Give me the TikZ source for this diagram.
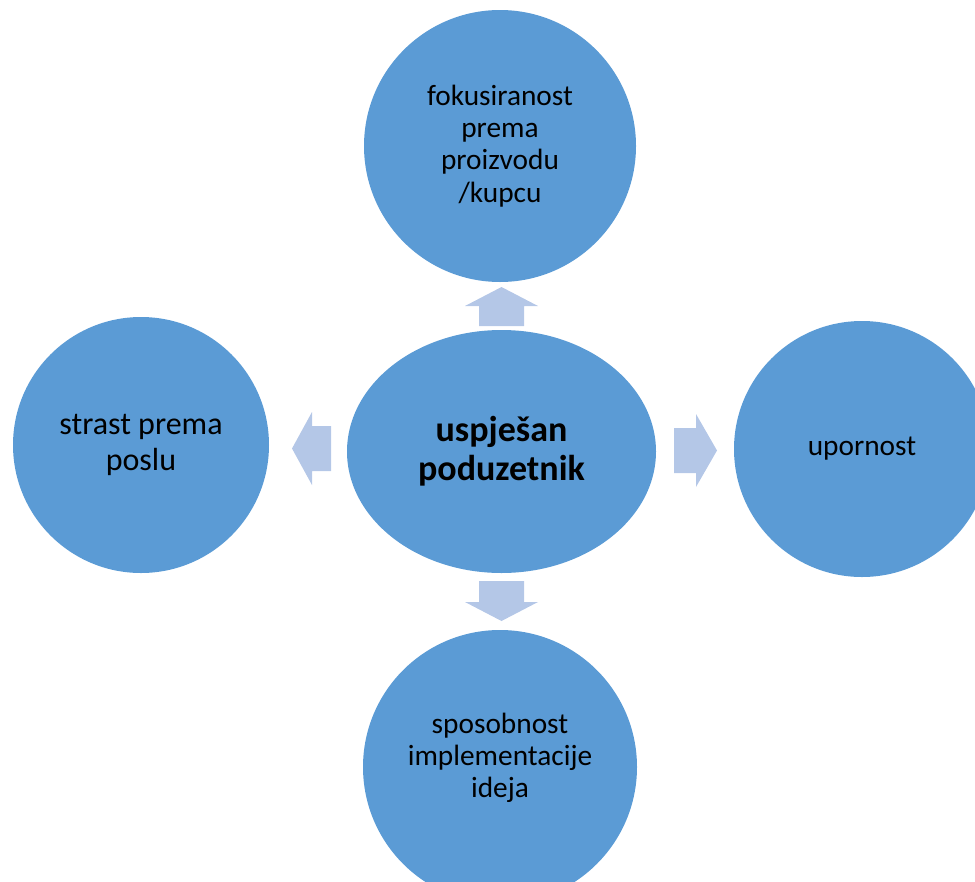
\documentclass[tikz,border=0pt]{standalone}
\usepackage{fontspec}
\setmainfont{Carlito}
\usetikzlibrary{shapes.geometric}
\definecolor{circblue}{HTML}{5B9BD5}
\definecolor{arrblue}{HTML}{B4C7E7}
\begin{document}
\begin{tikzpicture}[x=0.75pt,y=-0.75pt,
  bubble/.style={circle,fill=circblue,inner sep=0pt,align=center,text=black,
    font=\fontsize{22}{24.2}\selectfont},
  plaintext/.style={inner sep=0pt,align=center,text=black,
    font=\fontsize{22}{24.2}\selectfont},
  hub/.style={ellipse,fill=circblue,inner sep=0pt,align=center,text=black,
    minimum width=231.75pt,minimum height=182.25pt,
    font=\bfseries\fontsize{27}{29}\selectfont},
  blockarrow/.style={fill=arrblue}]
\useasboundingbox (0,0) rectangle (975,882);
\clip (0,0) rectangle (975,882);
\node[hub] (hub) at (501.5,451.5) {uspješan\\poduzetnik};
\node[bubble,minimum size=204pt] (top) at (500,146) {fokusiranost\\prema\\proizvodu\\/kupcu};
\node[bubble,minimum size=192pt,font=\fontsize{24}{27}\selectfont] (left) at (141,445) {strast prema\\poslu};
\node[bubble,minimum size=192pt] (right) at (862,449) {upornost};
\node[bubble,minimum size=205.5pt] (bottom) at (500,767) {};
\node[plaintext] (bottomtext) at (500,758) {sposobnost\\implementacije\\ideja};
% up arrow
\fill[blockarrow] (479,326) -- (479,306) -- (465,306) -- (501.5,287) -- (538,306) -- (524,306) -- (524,326) -- cycle;
% down arrow
\fill[blockarrow] (479,581) -- (479,602) -- (465,602) -- (501.5,621) -- (538,602) -- (524,602) -- (524,581) -- cycle;
% left arrow
\fill[blockarrow] (331,426) -- (312,426) -- (312,412) -- (292,448.5) -- (312,485) -- (312,471) -- (331,471) -- cycle;
% right arrow
\fill[blockarrow] (674,428) -- (696,428) -- (696,414) -- (717,450.5) -- (696,487) -- (696,473) -- (674,473) -- cycle;
\end{tikzpicture}
\end{document}
